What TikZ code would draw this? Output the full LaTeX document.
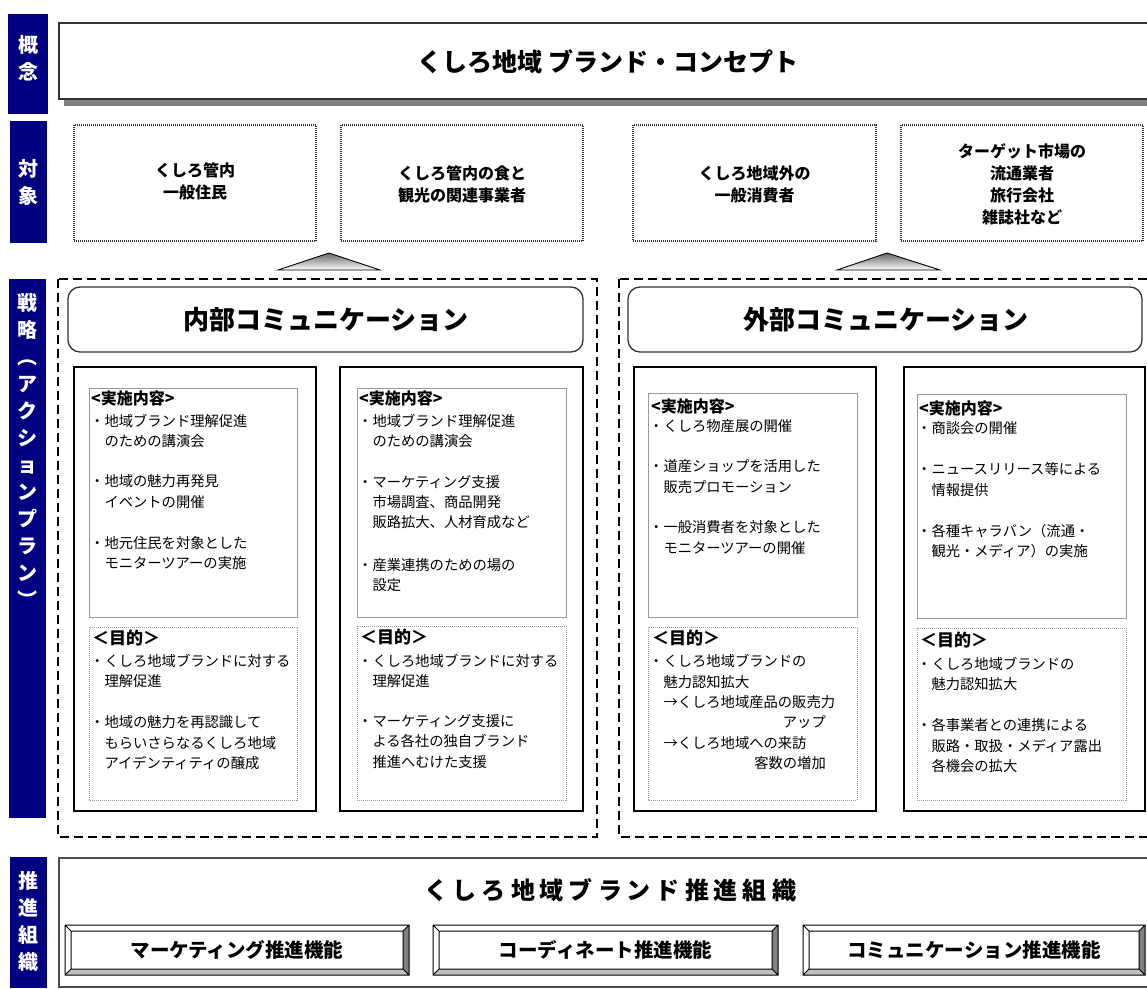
\documentclass[tikz,border=0pt]{standalone}
\usepackage{fontspec}
\newfontfamily\jp{Noto Sans CJK JP}
\definecolor{barnavy}{HTML}{000080}
\definecolor{shadowgray}{HTML}{808080}
\definecolor{lightframe}{HTML}{9A9A9A}
\definecolor{darkframe}{HTML}{333333}
\tikzset{
  barfill/.style={fill=barnavy,draw=none},
  barlabel/.style={text=white,font=\jp\bfseries\fontsize{20}{27}\selectfont,align=center,inner sep=0pt},
  tgtbox/.style={draw=darkframe,line width=1.1pt,dash pattern=on 1pt off 1pt},
  tgttext/.style={font=\jp\bfseries\fontsize{16}{22}\selectfont,align=center,inner sep=0pt},
  bigdash/.style={draw=black,line width=2.2pt,dash pattern=on 9pt off 5pt},
  headbox/.style={draw=darkframe,line width=1.3pt,rounded corners=12pt,fill=white},
  headtext/.style={font=\jp\bfseries\fontsize{26}{30}\selectfont,inner sep=0pt},
  colbox/.style={draw=black,line width=1.2pt},
  actbox/.style={draw=lightframe,line width=1pt},
  aimbox/.style={draw=lightframe,line width=0.9pt,dash pattern=on 1pt off 1pt},
  body/.style={font=\jp\fontsize{14.3}{16}\selectfont,inner sep=0pt,text height=12.6pt,text depth=1.7pt},
  acthead/.style={font=\jp\bfseries\fontsize{16}{18}\selectfont,inner sep=0pt,text height=14pt,text depth=2pt},
  aimhead/.style={font=\jp\bfseries\fontsize{17}{19}\selectfont,inner sep=0pt,text height=15pt,text depth=2pt},
  tri/.style={draw=black,line width=0.9pt,top color=black!60,bottom color=white},
  funtext/.style={font=\jp\bfseries\fontsize{19.5}{22}\selectfont,inner sep=0pt},
}
\newcommand\txtblock[3]{%
  \foreach \yy/\tt [count=\i] in {#3} {\node[body,anchor=west] (#1\i) at (#2,\yy) {\tt};}}
\newcommand\bevelbox[6]{%
  \fill[white] (#1,#2) rectangle (#3,#4);
  \fill[shadowgray] (#3,#2) -- (#3,#4) -- (#3-6,#4-6) -- (#3-6,#2+6) -- cycle;
  \fill[black!25] (#1,#4) -- (#3,#4) -- (#3-6,#4-6) -- (#1+6,#4-6) -- cycle;
  \draw[black,line width=1pt] (#1,#2) rectangle (#3,#4) (#1+6,#2+6) rectangle (#3-6,#4-6)
    (#1,#2) -- (#1+6,#2+6) (#3,#2) -- (#3-6,#2+6) (#1,#4) -- (#1+6,#4-6) (#3,#4) -- (#3-6,#4-6);
  \node[funtext] (#5) at ({(#1+#3)/2},{(#2+#4)/2}) {#6};}
\begin{document}
\begin{tikzpicture}[x=1pt,y=-1pt]
\useasboundingbox[fill=white] (0,0) rectangle (1147,988);
% ---------- left label bars
\path[barfill] (8,14) rectangle (48,114);
\node[barlabel] (lconcept) at (28,58.5) {概\\念};
\path[barfill] (10,121) rectangle (47,243);
\node[barlabel] (ltarget) at (28.5,182) {対\\象};
\path[barfill] (9,279) rectangle (46,818);
\node[barlabel] (lstrategy) at (27.5,450) {戦\\略\\︵\\ア\\ク\\シ\\ョ\\ン\\プ\\ラ\\ン\\︶};
\path[barfill] (10,857) rectangle (47,988);
\node[barlabel] (lorg) at (28.5,921.5) {推\\進\\組\\織};
% ---------- concept
\fill[shadowgray] (64,30) rectangle (1160,106);
\draw[draw=darkframe,line width=2pt,fill=white] (59,23) rectangle (1160,99);
\node[font=\jp\bfseries\fontsize{25}{28}\selectfont,inner sep=0pt] (concept) at (608,62) {くしろ地域 ブランド・コンセプト};
% ---------- targets
\draw[tgtbox] (74,125) rectangle (316,241);
\node[tgttext] (t1) at (195,181.5) {くしろ管内\\一般住民};
\draw[tgtbox] (341,125) rectangle (583,241);
\node[tgttext] (t2) at (462,184) {くしろ管内の食と\\観光の関連事業者};
\draw[tgtbox] (633,125) rectangle (876,241);
\node[tgttext] (t3) at (754.5,184) {くしろ地域外の\\一般消費者};
\draw[tgtbox] (901,125) rectangle (1143,241);
\node[tgttext] (t4) at (1022,184) {ターゲット市場の\\流通業者\\旅行会社\\雑誌社など};
% ---------- triangles
\path[tri] (278,270) -- (329,253) -- (380,270) -- cycle;
\path[tri] (837,270) -- (887,253) -- (940,270) -- cycle;
% ---------- strategy frames
\draw[bigdash] (58,279) rectangle (597,837);
\draw[bigdash] (619,279) rectangle (1165,837);
\draw[headbox] (68,287) rectangle (583,352);
\node[headtext] (inner) at (326,320) {内部コミュニケーション};
\draw[headbox] (628,287) rectangle (1142,352);
\node[headtext] (outer) at (886,320) {外部コミュニケーション};
% columns
\draw[colbox] (74,367) rectangle (316,811);
\draw[colbox] (340,367) rectangle (583,811);
\draw[colbox] (634,367) rectangle (876,811);
\draw[colbox] (904,367) rectangle (1145,811);
\draw[actbox] (89,388) rectangle (297,617);
\draw[actbox] (357,388) rectangle (566,617);
\draw[actbox] (648,393) rectangle (857,617);
\draw[actbox] (917,394) rectangle (1126,618);
\draw[aimbox] (89,627) rectangle (297,800);
\draw[aimbox] (357,626) rectangle (566,800);
\draw[aimbox] (648,627) rectangle (857,800);
\draw[aimbox] (917,628) rectangle (1126,800);
% ---------- column 1
\node[acthead,anchor=west] (a1h) at (91,398) {<実施内容>};
\txtblock{a1l}{90}{421/・地域ブランド理解促進,441/　のための講演会,481/・地域の魅力再発見,502/　イベントの開催,543/・地元住民を対象とした,563/　モニターツアーの実施}
\node[aimhead,anchor=west] (p1h) at (92,638) {＜目的＞};
\txtblock{p1l}{90}{661/・くしろ地域ブランドに対する,681/　理解促進,722/・地域の魅力を再認識して,743/　もらいさらなるくしろ地域,763/　アイデンティティの醸成}
% ---------- column 2
\node[acthead,anchor=west] (a2h) at (359,398) {<実施内容>};
\txtblock{a2l}{358}{421/・地域ブランド理解促進,441/　のための講演会,482/・マーケティング支援,502/　市場調査、商品開発,522/　販路拡大、人材育成など,565/・産業連携のための場の,585/　設定}
\node[aimhead,anchor=west] (p2h) at (360,637) {＜目的＞};
\txtblock{p2l}{358}{661/・くしろ地域ブランドに対する,681/　理解促進,721/・マーケティング支援に,741/　よる各社の独自ブランド,762/　推進へむけた支援}
% ---------- column 3
\node[acthead,anchor=west] (a3h) at (651,406) {<実施内容>};
\txtblock{a3l}{649}{426/・くしろ物産展の開催,466/・道産ショップを活用した,487/　販売プロモーション,527/・一般消費者を対象とした,548/　モニターツアーの開催}
\node[aimhead,anchor=west] (p3h) at (652,638) {＜目的＞};
\txtblock{p3l}{649}{661/・くしろ地域ブランドの,682/　魅力認知拡大,702/　→くしろ地域産品の販売力,743/　→くしろ地域への来訪}
\node[body,anchor=east] (p3r1) at (826,722) {アップ};
\node[body,anchor=east] (p3r2) at (826,763) {客数の増加};
% ---------- column 4
\node[acthead,anchor=west] (a4h) at (919,408) {<実施内容>};
\txtblock{a4l}{917}{428/・商談会の開催,469/・ニュースリリース等による,490/　情報提供,531/・各種キャラバン（流通・,551/　観光・メディア）の実施}
\node[aimhead,anchor=west] (p4h) at (920,640) {＜目的＞};
\txtblock{p4l}{917}{664/・くしろ地域ブランドの,684/　魅力認知拡大,725/・各事業者との連携による,746/　販路・取扱・メディア露出,766/　各機会の拡大}
% ---------- organisation
\draw[draw=black!70,line width=1.4pt] (59,858) rectangle (1165,987);
\node[font=\jp\bfseries\fontsize{24}{26}\selectfont,inner sep=0pt] (org) at (610,890)
  {く\kern5ptし\kern5ptろ\kern5pt地\kern5pt域\kern5ptブ\kern5ptラ\kern5ptン\kern5ptド\kern5pt推\kern5pt進\kern5pt組\kern5pt織};
\bevelbox{65}{925}{409}{975}{f1}{マーケティング推進機能}
\bevelbox{433}{925}{778}{975}{f2}{コーディネート推進機能}
\bevelbox{803}{925}{1145}{975}{f3}{コミュニケーション推進機能}
\end{tikzpicture}
\end{document}
